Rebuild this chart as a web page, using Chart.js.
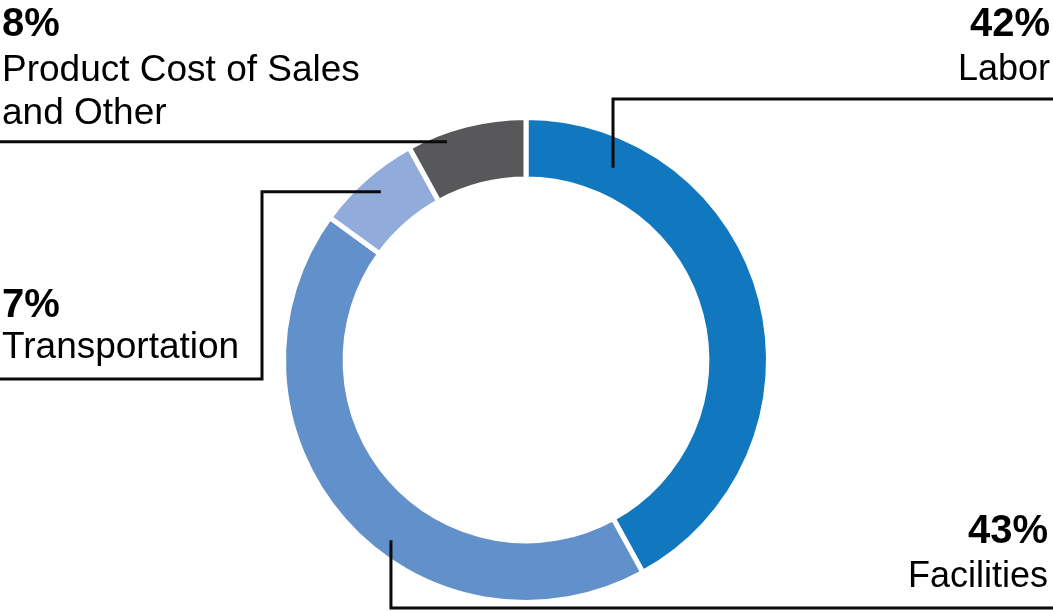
<!DOCTYPE html>
<html>
<head>
<meta charset="utf-8">
<script src="https://cdn.jsdelivr.net/npm/chart.js@4/dist/chart.umd.min.js"></script>
<style>
  html, body { margin: 0; padding: 0; background: #ffffff; }
  #wrap { width: 1053px; height: 612px; }
</style>
</head>
<body>
<div id="wrap"><canvas id="c" width="1053" height="612"></canvas></div>
<script>
// ---- data ----
const categories = ['Labor', 'Facilities', 'Transportation', 'Product Cost of Sales and Other'];
const values = [42, 43, 7, 8];
const labelLines = [['Labor'], ['Facilities'], ['Transportation'], ['Product Cost of Sales', 'and Other']];
const colors = ['#1177BF', '#6290CB', '#91ABDB', '#58585A'];

// ---- label layout (annotation positions, not data) ----
// anchor: t = fraction along the arc, f = fraction between inner and outer radius
const labelLayout = [
  { t: 0.161, f: 0.49, align: 'right', x: 1050, size: 36, pctY: 36, lineY: [80], route: (a, W, H) => [[a.x, a.y], [a.x, 99], [W, 99]] },
  { t: 0.424, f: 0.72, align: 'right', x: 1048, size: 36, pctY: 543, lineY: [587], route: (a, W, H) => [[a.x, a.y], [a.x, 608], [W, 608]] },
  { t: 0.524, f: 0.67, align: 'left', x: 2, size: 37, pctY: 317, lineY: [358], route: (a, W, H) => [[a.x, a.y], [262, a.y], [262, 379], [0, 379]] },
  { t: 0.309, f: 0.83, align: 'left', x: 2, size: 37, pctY: 36, lineY: [81, 124], route: (a, W, H) => [[a.x, a.y], [0, a.y]] }
];

const calloutPlugin = {
  id: 'callouts',
  afterDatasetsDraw(chart) {
    const ctx = chart.ctx;
    const meta = chart.getDatasetMeta(0);
    const W = chart.width, H = chart.height;
    ctx.save();
    meta.data.forEach((arc, i) => {
      const p = arc.getProps(['x', 'y', 'startAngle', 'endAngle', 'innerRadius', 'outerRadius'], true);
      const L = labelLayout[i];
      const ang = p.startAngle + (p.endAngle - p.startAngle) * L.t;
      const r = p.innerRadius + (p.outerRadius - p.innerRadius) * L.f;
      const a = { x: p.x + r * Math.cos(ang), y: p.y + r * Math.sin(ang) };
      const pts = L.route(a, W, H);
      ctx.beginPath();
      ctx.strokeStyle = '#0a0a0a';
      ctx.lineWidth = 3;
      ctx.lineJoin = 'miter';
      ctx.lineCap = 'butt';
      pts.forEach((pt, k) => k === 0 ? ctx.moveTo(pt[0], pt[1]) : ctx.lineTo(pt[0], pt[1]));
      ctx.stroke();

      ctx.fillStyle = '#000000';
      ctx.textAlign = L.align;
      ctx.textBaseline = 'alphabetic';
      ctx.font = 'bold 40px "Liberation Sans", Arial, sans-serif';
      ctx.fillText(values[i] + '%', L.x, L.pctY);
      ctx.font = L.size + 'px "Liberation Sans", Arial, sans-serif';
      labelLines[i].forEach((txt, k) => ctx.fillText(txt, L.x, L.lineY[k]));
    });
    ctx.restore();
  }
};

new Chart(document.getElementById('c'), {
  type: 'doughnut',
  data: {
    labels: categories,
    datasets: [{
      data: values,
      backgroundColor: colors,
      borderColor: '#ffffff',
      borderWidth: 5,
      hoverOffset: 0
    }]
  },
  options: {
    responsive: false,
    animation: false,
    cutout: '74.6%',
    layout: { padding: { top: 115, bottom: 7, left: 0, right: 1 } },
    plugins: { legend: { display: false }, tooltip: { enabled: false } }
  },
  plugins: [calloutPlugin]
});
</script>
</body>
</html>
